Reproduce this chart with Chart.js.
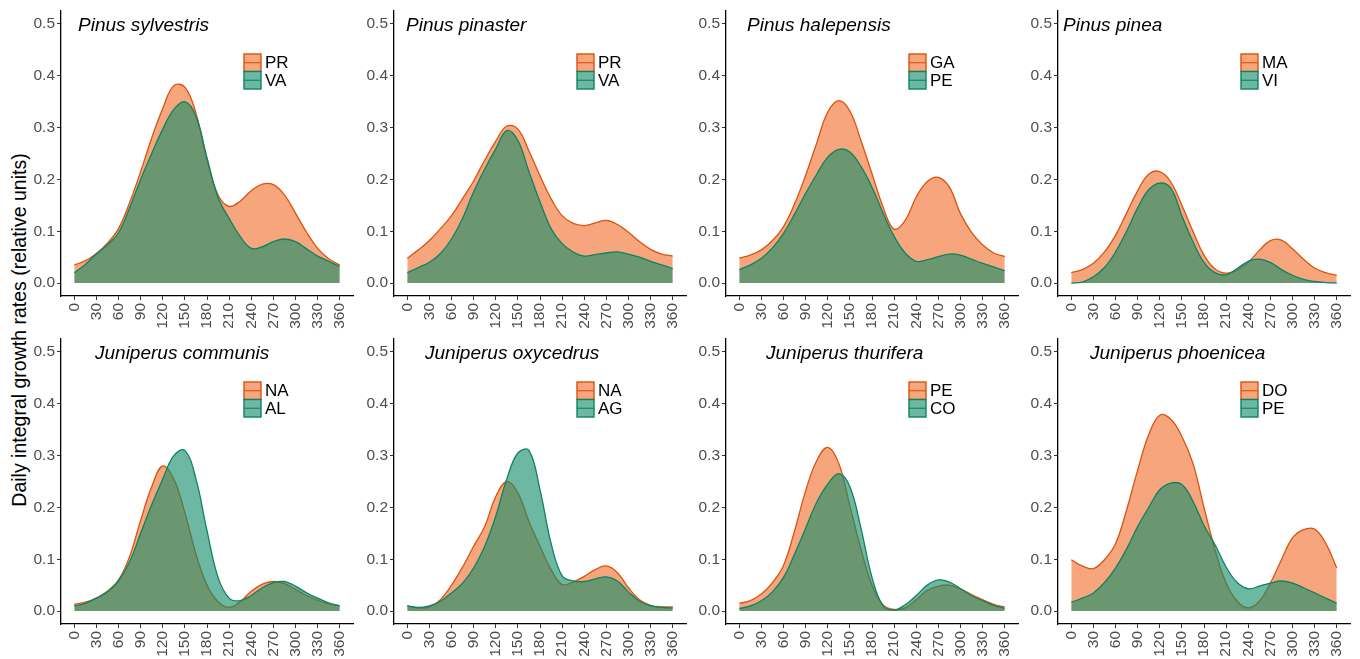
<!DOCTYPE html>
<html><head><meta charset="utf-8">
<script src="https://cdn.jsdelivr.net/npm/chart.js@4/dist/chart.umd.min.js"></script>
<style>
body{margin:0;background:#fff;width:1360px;height:659px;position:relative;overflow:hidden;font-family:"Liberation Sans",Arial,sans-serif}
canvas{position:absolute}
#ytitle{position:absolute;left:19px;top:330px;transform:translate(-50%,-50%) rotate(-90deg);white-space:nowrap;font-size:19.5px;color:#000}
</style></head><body>
<div id="ytitle">Daily integral growth rates (relative units)</div>
<script>
// ---- data ----
const days = [0,15,30,45,60,75,90,105,120,135,150,165,180,195,210,225,240,255,270,285,300,315,330,345,360];
const xTicks = [0,30,60,90,120,150,180,210,240,270,300,330,360];
const yTicks = [0,0.1,0.2,0.3,0.4,0.5];
const titles = ['Pinus sylvestris','Pinus pinaster','Pinus halepensis','Pinus pinea','Juniperus communis','Juniperus oxycedrus','Juniperus thurifera','Juniperus phoenicea'];
const orangeLabels = ['PR','PR','GA','MA','NA','NA','PE','DO'];
const tealLabels   = ['VA','VA','PE','VI','AL','AG','CO','PE'];

const sylvestrisPR = [0.035,0.043,0.057,0.077,0.105,0.155,0.215,0.28,0.337,0.381,0.378,0.328,0.238,0.17,0.148,0.158,0.178,0.191,0.19,0.17,0.135,0.098,0.067,0.047,0.035];
const sylvestrisVA = [0.02,0.036,0.056,0.074,0.097,0.145,0.2,0.25,0.297,0.335,0.35,0.322,0.242,0.165,0.125,0.09,0.067,0.07,0.08,0.085,0.08,0.066,0.052,0.042,0.032];
const pinasterPR = [0.048,0.064,0.082,0.105,0.13,0.163,0.197,0.237,0.274,0.303,0.297,0.255,0.207,0.163,0.13,0.115,0.111,0.116,0.121,0.113,0.098,0.08,0.065,0.056,0.052];
const pinasterVA = [0.02,0.03,0.04,0.057,0.085,0.125,0.176,0.22,0.259,0.294,0.275,0.215,0.157,0.105,0.076,0.06,0.052,0.055,0.058,0.06,0.056,0.05,0.042,0.035,0.028];
const halepensisGA = [0.048,0.054,0.064,0.082,0.109,0.153,0.208,0.27,0.33,0.352,0.332,0.275,0.211,0.147,0.104,0.121,0.166,0.196,0.204,0.185,0.134,0.098,0.074,0.058,0.051];
const halepensisPE = [0.026,0.035,0.048,0.068,0.096,0.133,0.173,0.21,0.243,0.258,0.253,0.225,0.185,0.135,0.09,0.058,0.042,0.045,0.051,0.056,0.054,0.046,0.038,0.031,0.024];
const pineaMA = [0.02,0.026,0.038,0.06,0.092,0.135,0.178,0.21,0.215,0.195,0.15,0.1,0.054,0.027,0.019,0.025,0.04,0.063,0.082,0.083,0.066,0.046,0.029,0.02,0.015];
const pineaVI = [0,0.002,0.012,0.03,0.06,0.1,0.145,0.18,0.193,0.183,0.13,0.08,0.04,0.02,0.016,0.028,0.042,0.046,0.04,0.026,0.015,0.007,0.003,0.001,0];
const communisNA = [0.013,0.017,0.025,0.038,0.06,0.105,0.175,0.24,0.28,0.255,0.19,0.11,0.05,0.018,0.007,0.018,0.038,0.052,0.057,0.053,0.042,0.03,0.021,0.014,0.01];
const communisAL = [0.01,0.015,0.025,0.037,0.058,0.095,0.15,0.205,0.255,0.3,0.31,0.255,0.155,0.065,0.025,0.02,0.03,0.045,0.055,0.057,0.048,0.035,0.025,0.016,0.01];
const oxycedrusNA = [0.01,0.006,0.008,0.022,0.05,0.085,0.125,0.163,0.221,0.25,0.228,0.173,0.125,0.08,0.051,0.056,0.067,0.08,0.087,0.074,0.045,0.022,0.011,0.008,0.008];
const oxycedrusAG = [0.01,0.007,0.01,0.019,0.035,0.054,0.083,0.125,0.183,0.255,0.305,0.31,0.234,0.131,0.068,0.058,0.057,0.062,0.066,0.058,0.037,0.019,0.01,0.007,0.006];
const thuriferaPE = [0.015,0.02,0.033,0.055,0.088,0.155,0.232,0.29,0.316,0.285,0.203,0.12,0.05,0.012,0.003,0.006,0.022,0.04,0.048,0.05,0.043,0.032,0.022,0.013,0.008];
const thuriferaCO = [0.005,0.01,0.02,0.037,0.065,0.11,0.16,0.21,0.245,0.265,0.24,0.16,0.065,0.01,0.002,0.012,0.03,0.05,0.06,0.056,0.043,0.03,0.02,0.011,0.005];
const phoeniceaDO = [0.099,0.087,0.082,0.099,0.13,0.195,0.272,0.34,0.378,0.37,0.337,0.285,0.2,0.118,0.054,0.019,0.006,0.019,0.054,0.099,0.141,0.157,0.158,0.131,0.083];
const phoeniceaPE = [0.017,0.025,0.035,0.055,0.083,0.12,0.163,0.2,0.234,0.247,0.244,0.212,0.165,0.128,0.085,0.055,0.043,0.048,0.054,0.058,0.054,0.045,0.035,0.025,0.015];

const orangeSeries = [sylvestrisPR,pinasterPR,halepensisGA,pineaMA,communisNA,oxycedrusNA,thuriferaPE,phoeniceaDO];
const tealSeries   = [sylvestrisVA,pinasterVA,halepensisPE,pineaVI,communisAL,oxycedrusAG,thuriferaCO,phoeniceaPE];

// ---- styling / layout ----
const FONT = '"Liberation Sans", Arial, sans-serif';
const ORANGE_FILL = 'rgb(247,165,124)';
const ORANGE_LINE = '#d9540e';
const TEAL_FILL = 'rgba(20,140,105,0.62)';
const TEAL_LINE = '#0c8463';
const axisLefts = [61,394,726,1058];
const rowTops = [2,330];
const titleDx = [17,12,21,5,34,31,40,32];

const deco = {
  id:'deco',
  afterDraw(chart, args, opts){
    const {ctx, chartArea:a} = chart;
    ctx.save();
    ctx.fillStyle = '#000';
    ctx.font = 'italic 19px ' + FONT;
    ctx.textAlign = 'left';
    ctx.textBaseline = 'alphabetic';
    ctx.fillText(opts.title, a.left + opts.dx, a.top + 19.5);
    const bx = a.left + 183, by = a.top + 43, bw = 17, bh = 17.5;
    const items = [[ORANGE_FILL, ORANGE_LINE, opts.l1],[TEAL_FILL, TEAL_LINE, opts.l2]];
    items.forEach((e,k)=>{
      const y = by + k*bh;
      ctx.fillStyle = '#fff'; ctx.fillRect(bx, y, bw, bh);
      ctx.fillStyle = e[0]; ctx.fillRect(bx, y, bw, bh);
      ctx.strokeStyle = e[1]; ctx.lineWidth = 1.4;
      ctx.strokeRect(bx, y, bw, bh);
      ctx.beginPath(); ctx.moveTo(bx, y+bh/2); ctx.lineTo(bx+bw, y+bh/2); ctx.lineWidth = 1.1; ctx.stroke();
    });
    items.forEach((e,k)=>{
      const y = by + k*bh;
      ctx.fillStyle = '#000'; ctx.font = '17px ' + FONT; ctx.textBaseline = 'middle';
      ctx.fillText(e[2], bx + bw + 4, y + bh/2 + 1);
    });
    ctx.restore();
  }
};

function makeChart(i){
  const row = Math.floor(i/4), col = i%4;
  const cv = document.createElement('canvas');
  cv.width = 334; cv.height = 327;
  cv.style.left = (axisLefts[col]-40) + 'px';
  cv.style.top = rowTops[row] + 'px';
  document.body.appendChild(cv);
  const tickFont = {size:15.5, family:FONT};
  new Chart(cv, {
    type:'line',
    data:{datasets:[
      {label:orangeLabels[i], data:days.map((d,j)=>({x:d,y:orangeSeries[i][j]})), borderColor:ORANGE_LINE, backgroundColor:ORANGE_FILL, fill:'origin', order:2},
      {label:tealLabels[i], data:days.map((d,j)=>({x:d,y:tealSeries[i][j]})), borderColor:TEAL_LINE, backgroundColor:TEAL_FILL, fill:'origin', order:1}
    ]},
    options:{
      responsive:false, animation:false, devicePixelRatio:1,
      layout:{padding:{top:9,right:2,left:0,bottom:0}},
      elements:{point:{radius:0}, line:{borderWidth:1.3, tension:0.4, capBezierPoints:true}},
      plugins:{legend:{display:false}, tooltip:{enabled:false},
        deco:{title:titles[i], dx:titleDx[i], l1:orangeLabels[i], l2:tealLabels[i]}},
      scales:{
        x:{type:'linear', min:-18, max:378,
          afterBuildTicks:s=>{s.ticks = xTicks.map(v=>({value:v}));},
          afterFit:s=>{s.height = 33; s.paddingLeft = 0; s.paddingRight = 0;},
          ticks:{autoSkip:false, minRotation:90, maxRotation:90, padding:3, color:'#4d4d4d', font:tickFont, callback:v=>String(v)},
          grid:{drawOnChartArea:false, drawTicks:true, tickLength:4, color:'#333', lineWidth:1},
          border:{display:true, color:'#000', width:1.3}},
        y:{type:'linear', min:-0.025, max:0.525,
          afterBuildTicks:s=>{s.ticks = yTicks.map(v=>({value:v}));},
          afterFit:s=>{s.width = 40; s.paddingTop = 0; s.paddingBottom = 0;},
          ticks:{padding:2, color:'#4d4d4d', font:tickFont, callback:v=>Number(v).toFixed(1)},
          grid:{drawOnChartArea:false, drawTicks:true, tickLength:4, color:'#333', lineWidth:1},
          border:{display:true, color:'#000', width:1.3}}
      }
    },
    plugins:[deco]
  });
}
for (let i=0;i<8;i++) makeChart(i);
</script>
</body></html>
